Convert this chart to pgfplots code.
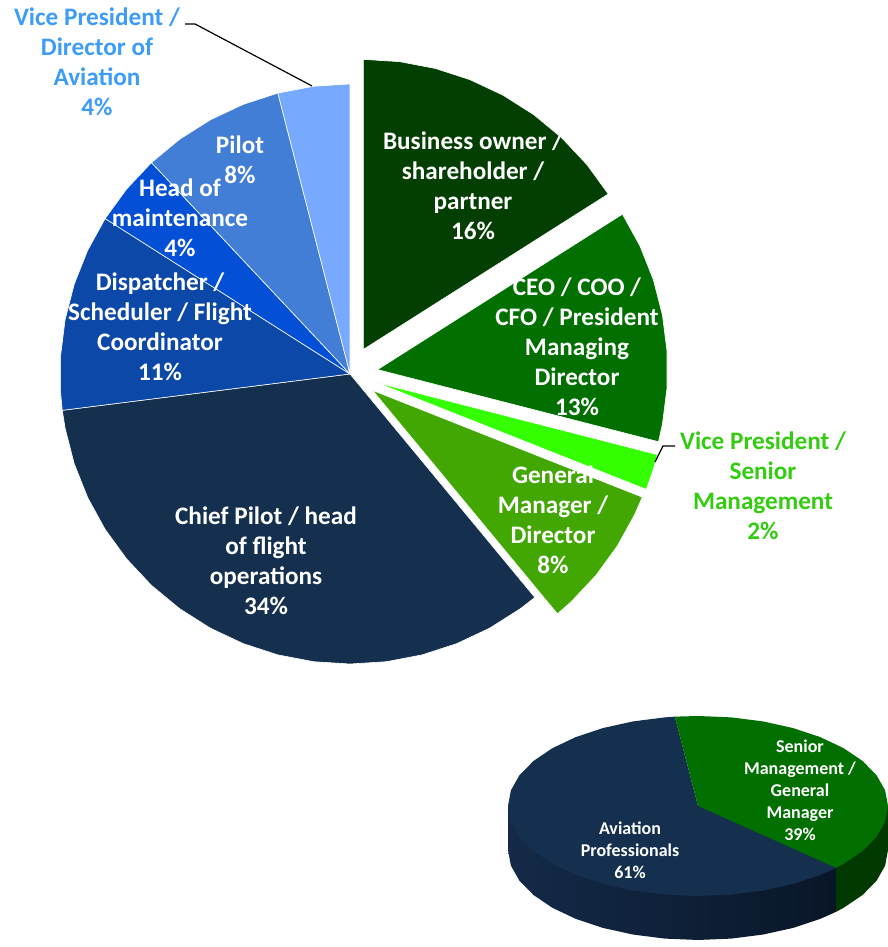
\documentclass[border=0pt]{standalone}
\usepackage{pgfplots}
\pgfplotsset{compat=1.18}
\usepackage{fontspec}
\setmainfont{Carlito}
\definecolor{bizG}{HTML}{033F03}
\definecolor{ceoG}{HTML}{017001}
\definecolor{vpsG}{HTML}{33FF00}
\definecolor{gmG}{HTML}{42A603}
\definecolor{chief}{HTML}{15304F}
\definecolor{disp}{HTML}{0B48A8}
\definecolor{maint}{HTML}{034FD6}
\definecolor{pilot}{HTML}{427DD6}
\definecolor{vpdir}{HTML}{77AAFF}
\definecolor{vpdirTxt}{HTML}{3C9CF8}
\definecolor{vpsTxt}{HTML}{33CC11}
\definecolor{navySideL}{HTML}{142A48}
\definecolor{navySideR}{HTML}{091628}
\definecolor{greenSide}{HTML}{013A01}
\pgfplotsset{
  pieax/.style={scale only axis, width=444pt, height=473.5pt, hide axis, clip=false,
    at={(0,0)}, anchor=south west},
  wedge/.style={data cs=polar, draw=white, line width=0.3pt},
}
\tikzset{
  lbl/.style={font=\fontsize{12.6}{15}\selectfont\bfseries, text=white, align=center, inner sep=0pt},
  lbls/.style={font=\fontsize{9}{11}\selectfont\bfseries, text=white, align=center, inner sep=0pt},
}
\begin{document}
\begin{tikzpicture}
\useasboundingbox (0,0) rectangle (444pt,473.5pt);
% main pie, shares 16/13/2/8/34/11/4/8/4, clockwise from 12 o'clock, radius 290
\begin{axis}[pieax, xmin=-350, xmax=538, ymin=-573, ymax=374]
  \addplot[wedge, fill=bizG, xshift=6.7pt, yshift=12.3pt] coordinates {(0,0) (90,290) (82.8,290) (75.6,290) (68.4,290) (61.2,290) (54,290) (46.8,290) (39.6,290) (32.4,290) (0,0)};
  \addplot[wedge, fill=ceoG, xshift=13.8pt, yshift=2.2pt] coordinates {(0,0) (32.4,290) (25.2,290) (18,290) (10.8,290) (3.6,290) (-3.6,290) (-10.8,290) (-14.4,290) (0,0)};
  \addplot[wedge, fill=vpsG, xshift=13.3pt, yshift=-4.3pt] coordinates {(0,0) (-14.4,290) (-18,290) (-21.6,290) (0,0)};
  \addplot[wedge, fill=gmG, xshift=11.3pt, yshift=-8.2pt] coordinates {(0,0) (-21.6,290) (-25.2,290) (-32.4,290) (-39.6,290) (-46.8,290) (-50.4,290) (0,0)};
  \addplot[wedge, fill=chief] coordinates {(0,0) (-50.4,290) (-54,290) (-61.2,290) (-68.4,290) (-75.6,290) (-82.8,290) (-90,290) (-97.2,290) (-104.4,290) (-111.6,290) (-118.8,290) (-126,290) (-133.2,290) (-140.4,290) (-147.6,290) (-154.8,290) (-162,290) (-169.2,290) (-172.8,290) (0,0)};
  \addplot[wedge, fill=disp] coordinates {(0,0) (187.2,290) (183.6,290) (176.4,290) (169.2,290) (162,290) (154.8,290) (147.6,290) (0,0)};
  \addplot[wedge, fill=maint] coordinates {(0,0) (147.6,290) (140.4,290) (133.2,290) (0,0)};
  \addplot[wedge, fill=pilot] coordinates {(0,0) (133.2,290) (126,290) (118.8,290) (111.6,290) (104.4,290) (0,0)};
  \addplot[wedge, fill=vpdir] coordinates {(0,0) (104.4,290) (97.2,290) (90,290) (0,0)};

  \node[lbl] at (axis cs:123,188) {Business owner /\\shareholder /\\partner\\16\%};
  \node[lbl] at (axis cs:227,27) {CEO / COO /\\CFO / President\\Managing\\Director\\13\%};
  \node[lbl] at (axis cs:203,-146) {General\\Manager /\\Director\\8\%};
  \node[lbl] at (axis cs:-84,-187) {Chief Pilot / head\\of flight\\operations\\34\%};
  \node[lbl] at (axis cs:-190,47) {Dispatcher /\\Scheduler / Flight\\Coordinator\\11\%};
  \node[lbl] at (axis cs:-170,156) {Head of\\maintenance\\4\%};
  \node[lbl] at (axis cs:-110,214) {Pilot\\8\%};
  \node[lbl, text=vpdirTxt] at (axis cs:-253,312) {Vice President /\\Director of\\Aviation\\4\%};
  \node[lbl, text=vpsTxt] at (axis cs:413,-112) {Vice President /\\Senior\\Management\\2\%};
  \draw[black, line width=0.6pt] (axis cs:-165,350) -- (axis cs:-155,350) -- (axis cs:-38,288);
  \draw[black, line width=0.6pt] (axis cs:325,-72) -- (axis cs:313,-72) -- (axis cs:305,-88);
\end{axis}
% small 3-D pie: 61 / 39
\begin{axis}[pieax, xmin=-698, xmax=190, ymin=-297.7, ymax=1701.6]
  % side: lower half of the shifted-down ellipse, split at x = 190 cos(-43.4)
  \addplot[data cs=polar, left color=navySideL, right color=navySideR, draw=none, yshift=-22pt] coordinates {(180,190) (190,190) (200,190) (210,190) (220,190) (230,190) (240,190) (250,190) (260,190) (270,190) (280,190) (290,190) (300,190) (310,190) (316.6,190) (0,138.1)};
  \addplot[data cs=polar, fill=greenSide, draw=none, yshift=-22pt] coordinates {(316.6,190) (320,190) (330,190) (340,190) (350,190) (360,190) (0,138.1)};
  \addplot[left color=navySideL, right color=navySideR, draw=none] coordinates {(-190,0.5) (138.1,0.5) (138.1,-92.9) (-190,-92.9)};
  \addplot[fill=greenSide, draw=none] coordinates {(138.1,0.5) (190,0.5) (190,-92.9) (138.1,-92.9)};
  % top
  \addplot[data cs=polar, fill=chief, draw=none] coordinates {(0,0) (97,190) (100,190) (110,190) (120,190) (130,190) (140,190) (150,190) (160,190) (170,190) (180,190) (190,190) (200,190) (210,190) (220,190) (230,190) (240,190) (250,190) (260,190) (270,190) (280,190) (290,190) (300,190) (310,190) (316.6,190) (0,0)};
  \addplot[data cs=polar, fill=ceoG, draw=none] coordinates {(0,0) (-43.4,190) (-40,190) (-30,190) (-20,190) (-10,190) (0,190) (10,190) (20,190) (30,190) (40,190) (50,190) (60,190) (70,190) (80,190) (90,190) (97,190) (0,0)};
  \node[lbls] at (axis cs:102,33.8) {Senior\\Management /\\General\\Manager\\39\%};
  \node[lbls] at (axis cs:-68,-92.9) {Aviation\\Professionals\\61\%};
\end{axis}
\end{tikzpicture}
\end{document}
